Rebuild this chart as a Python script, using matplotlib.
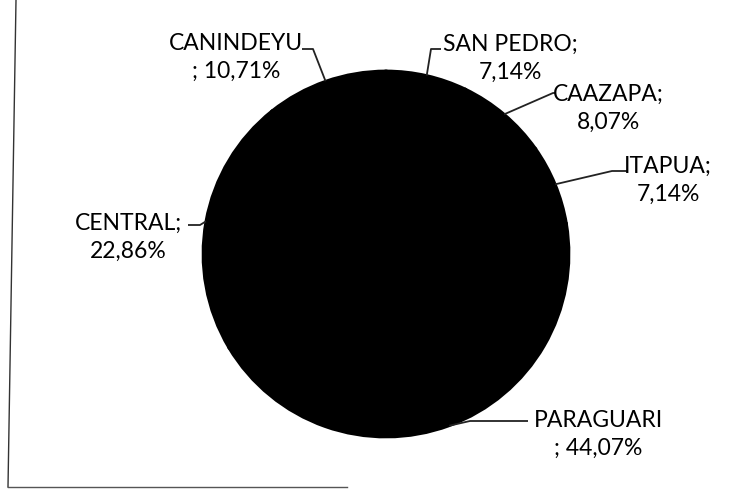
import matplotlib.pyplot as plt
from matplotlib.lines import Line2D
import numpy as np

departments = ["SAN PEDRO", "CAAZAPA", "ITAPUA", "PARAGUARI", "CENTRAL", "CANINDEYU"]
shares = [7.14, 8.07, 7.14, 44.07, 22.86, 10.71]
label_texts = ["SAN PEDRO;\n7,14%", "CAAZAPA;\n8,07%", "ITAPUA;\n7,14%",
               "PARAGUARI\n; 44,07%", "CENTRAL;\n22,86%", "CANINDEYU\n; 10,71%"]

# label layout in pixels: text centre, elbow, end of leader near the text
W, H = 750, 499
cx, cy, r = 386, 254, 183
text_pos = [(510, 58), (608, 108), (668, 180), (598, 434), (128, 237), (236, 57)]
elbows = [(431, 49), (553, 93), (612, 171), (470, 421), (200, 225), (313, 49)]
ends = [(441, 49), (556, 93), (627, 171), (528, 421), (188, 225), (302, 49)]

plt.rcParams['font.family'] = ['Lato', 'DejaVu Sans']

fig = plt.figure(figsize=(7.5, 4.99), dpi=100)
ax = fig.add_axes([(cx - r) / W, (H - cy - r) / H, 2 * r / W, 2 * r / H])
ax.pie(shares, startangle=90, counterclock=False, colors=["black"] * len(shares),
       wedgeprops=dict(edgecolor="black", linewidth=2.0))
ax.set_xlim(-1, 1)
ax.set_ylim(-1, 1)
ax.set_aspect("equal")
ax.axis("off")


def to_data(p):
    return ((p[0] - cx) / r, (cy - p[1]) / r)


cum = np.cumsum(shares) - np.array(shares) / 2
for i, name in enumerate(departments):
    ang = np.deg2rad(90 - cum[i] / sum(shares) * 360)
    ax_pt = (np.cos(ang), np.sin(ang))
    ex, ey = to_data(elbows[i])
    tx, ty = to_data(ends[i])
    ax.plot([ax_pt[0], ex, tx], [ax_pt[1], ey, ty], color="#222222", lw=1.3,
            clip_on=False, solid_capstyle="butt")
    px, py = to_data(text_pos[i])
    ax.text(px, py, label_texts[i], ha="center", va="center", fontsize=16.5,
            color="#000000", linespacing=1.4, clip_on=False)

# scanned frame edges
fig.add_artist(Line2D([16 / W, 8 / W], [1, 1 - 487 / H], color="#333333", lw=1.0))
fig.add_artist(Line2D([8 / W, 347 / W], [1 - 487 / H, 1 - 487 / H], color="#555555", lw=1.0))

fig.savefig("out.png", dpi=100)
